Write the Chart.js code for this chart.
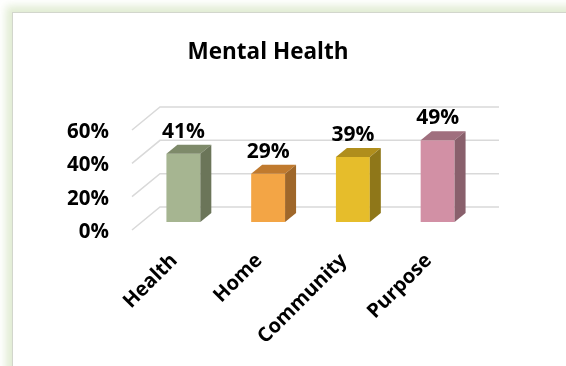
<!DOCTYPE html>
<html>
<head>
    <title>Mental Health</title>
    <meta name="viewport" content="width=device-width, initial-scale=1.0">
    <script src="https://cdn.jsdelivr.net/npm/chart.js"></script>
    <style>
        body {
            margin: 0;
            padding: 0;
            background: #ffffff;
            overflow: hidden;
            font-family: "Open Sans", Arial, sans-serif;
        }
        #frame {
            position: absolute;
            left: 12px;
            top: 12px;
            width: 620px;
            height: 420px;
            background: #ffffff;
            border-left: 1px solid #d2d6cc;
            border-top: 1px solid #d2d6cc;
            box-shadow: -3px -3px 8px 3px rgba(170, 200, 130, 0.35);
        }
        #chart-wrapper {
            position: absolute;
            left: 13px;
            top: 0;
            width: 510px;
            height: 366px;
        }
    </style>
</head>
<body>

<div id="frame"></div>
<div id="chart-wrapper">
  <canvas id="mentalChart" width="510" height="366"></canvas>
</div>

<script>
const categories = ['Health', 'Home', 'Community', 'Purpose'];
const percentValues = [41, 29, 39, 49];
const yTicks = [0, 20, 40, 60];

// front / top / side shades for each box
const frontColors = ['#a6b591', '#f3a545', '#e6bd2b', '#d290a5'];
const topColors = ['#7e8a6a', '#c07a2e', '#b08e1c', '#a06f7e'];
const sideColors = ['#6b7559', '#9f672a', '#8f7719', '#89606c'];

const DEPTH_X = 11, DEPTH_Y = -9;

// floor / back wall gridlines in oblique view
const gridWalls = {
    id: 'gridWalls',
    beforeDatasetsDraw(chart) {
        const ctx = chart.ctx;
        const area = chart.chartArea;
        const y = chart.scales.y;
        ctx.save();
        ctx.strokeStyle = '#d9d9d9';
        ctx.lineWidth = 1.5;
        yTicks.forEach(v => {
            const py = y.getPixelForValue(v);
            ctx.beginPath();
            ctx.moveTo(area.left - 9, py + 8);
            ctx.lineTo(area.left + 19, py - 15);
            ctx.lineTo(area.right + 19, py - 15);
            ctx.stroke();
        });
        ctx.restore();
    }
};

// top and side faces of the boxes, plus value labels
const boxFaces = {
    id: 'boxFaces',
    afterDatasetsDraw(chart) {
        const ctx = chart.ctx;
        const meta = chart.getDatasetMeta(0);
        ctx.save();
        meta.data.forEach((bar, i) => {
            const p = bar.getProps(['x', 'y', 'base', 'width'], true);
            const l = p.x - p.width / 2, r = p.x + p.width / 2;

            ctx.fillStyle = topColors[i];
            ctx.beginPath();
            ctx.moveTo(l, p.y);
            ctx.lineTo(l + DEPTH_X, p.y + DEPTH_Y);
            ctx.lineTo(r + DEPTH_X, p.y + DEPTH_Y);
            ctx.lineTo(r, p.y);
            ctx.closePath();
            ctx.fill();

            ctx.fillStyle = sideColors[i];
            ctx.beginPath();
            ctx.moveTo(r, p.y);
            ctx.lineTo(r + DEPTH_X, p.y + DEPTH_Y);
            ctx.lineTo(r + DEPTH_X, p.base + DEPTH_Y);
            ctx.lineTo(r, p.base);
            ctx.closePath();
            ctx.fill();

            ctx.fillStyle = '#000000';
            ctx.font = 'bold 21px "Open Sans"';
            ctx.textAlign = 'center';
            ctx.textBaseline = 'middle';
            ctx.fillText(percentValues[i] + '%', p.x, p.y - 22);
        });
        ctx.restore();
    }
};

const ctx = document.getElementById('mentalChart').getContext('2d');
const mentalChart = new Chart(ctx, {
    type: 'bar',
    data: {
        labels: categories,
        datasets: [{
            data: percentValues,
            backgroundColor: frontColors,
            borderWidth: 0,
            categoryPercentage: 1.0,
            barPercentage: 0.4
        }]
    },
    options: {
        responsive: false,
        animation: false,
        layout: {
            padding: { left: 43, right: 43, top: 0, bottom: 0 }
        },
        plugins: {
            legend: { display: false },
            tooltip: { enabled: false },
            title: {
                display: true,
                text: 'Mental Health',
                color: '#000000',
                font: { family: 'Open Sans', size: 22.5, weight: 'bold' },
                padding: { top: 39, bottom: 56 }
            }
        },
        scales: {
            x: {
                grid: { display: false },
                border: { display: false },
                ticks: {
                    color: '#000000',
                    font: { family: 'Open Sans', size: 20, weight: 'bold' },
                    minRotation: 45,
                    maxRotation: 45,
                    padding: 19,
                    labelOffset: -9
                },
                afterFit(scale) { scale.height = 144; }
            },
            y: {
                min: yTicks[0],
                max: yTicks[yTicks.length - 1],
                grid: { display: false, drawTicks: false },
                border: { display: false },
                ticks: {
                    stepSize: 20,
                    color: '#000000',
                    font: { family: 'Open Sans', size: 20.5, weight: 'bold' },
                    padding: 32,
                    labelOffset: 10,
                    callback: v => v + '%'
                },
                afterFit(scale) { scale.width = 85; }
            }
        }
    },
    plugins: [gridWalls, boxFaces]
});
</script>

</body>
</html>
